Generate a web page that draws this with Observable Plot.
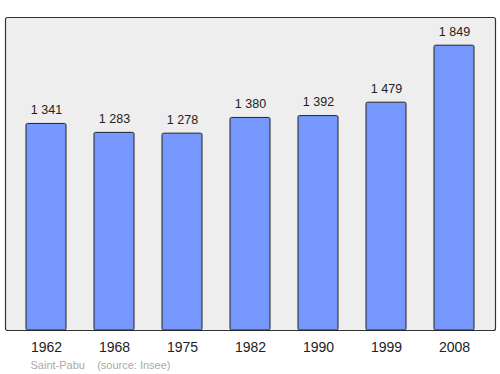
<!DOCTYPE html>
<html><head><meta charset="utf-8">
<script src="https://cdn.jsdelivr.net/npm/d3@7"></script>
<script src="https://cdn.jsdelivr.net/npm/@observablehq/plot@0.6"></script>
<style>body{margin:0;background:#fff;font-family:"DejaVu Sans",Arial,sans-serif}</style>
</head><body><div id="chart"></div>
<script>
const years = ["1962","1968","1975","1982","1990","1999","2008"];
const population = [1341, 1283, 1278, 1380, 1392, 1479, 1849];
const caption = "Saint-Pabu    (source: Insee)";

const data = years.map((y, i) => ({year: y, pop: population[i]}));
const fmt = v => String(v).replace(/\B(?=(\d{3})+(?!\d))/g, " ");

const chart = Plot.plot({
  width: 500, height: 374,
  marginLeft: 5, marginRight: 5, marginTop: 17, marginBottom: 44,
  style: {fontFamily: "Liberation Sans, Arial, sans-serif", background: "#fff"},
  x: {domain: years, paddingInner: 0.415, paddingOuter: 0.2075, insetLeft: 6, insetRight: 6, label: null},
  y: {domain: [0, 2032], axis: null},
  marks: [
    Plot.frame({fill: "#eeeeee", stroke: "#333", strokeWidth: 1.2, rx: 2}),
    Plot.barY(data, {x: "year", y: "pop", fill: "#7799ff", stroke: "#222", strokeWidth: 1, rx: 1.5}),
    Plot.text(data, {x: "year", y: "pop", text: d => fmt(d.pop), dy: -14, fontSize: 12.5, fill: "#222"}),
    Plot.axisX({tickSize: 0, tickPadding: 12, fontSize: 14, fill: "#222"}),
    Plot.text([caption], {frameAnchor: "bottom-left", dx: 25, dy: 38, fontSize: 11, fill: "#aaa", textAnchor: "start"})
  ]
});
chart.querySelectorAll("text").forEach(t => t.setAttribute("xml:space", "preserve"));
document.getElementById("chart").append(chart);
</script></body></html>
